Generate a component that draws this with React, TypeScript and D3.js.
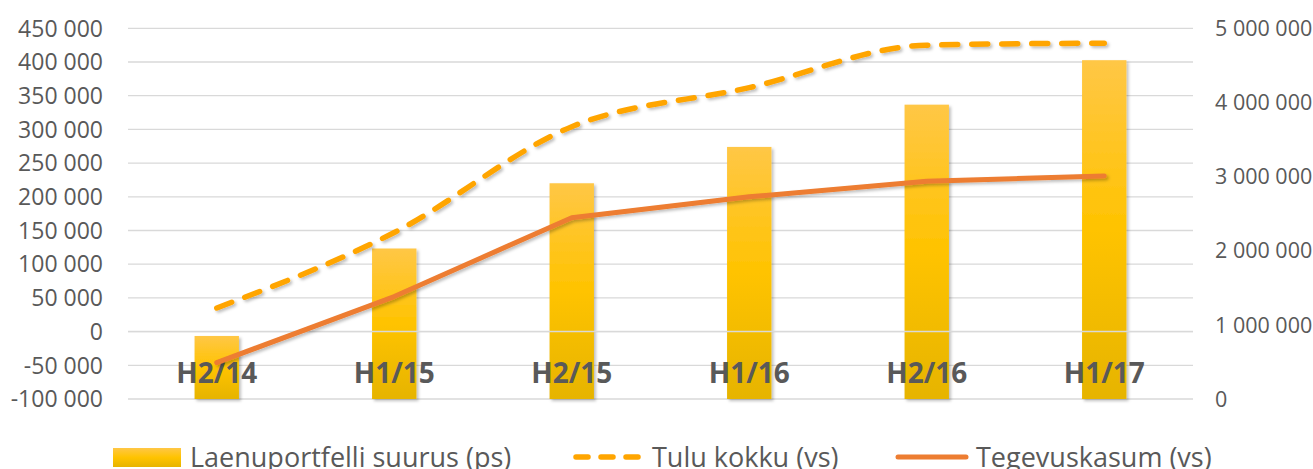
import * as d3 from "d3";
import React from "react";

// categories and series
const periods = ["H2/14", "H1/15", "H2/15", "H1/16", "H2/16", "H1/17"];
const portfolio = [850000, 2030000, 2910000, 3400000, 3970000, 4570000]; // right axis (ps)
const income = [35000, 147000, 304000, 362000, 425000, 428000]; // left axis (vs)
const operatingProfit = [-46000, 52000, 169000, 200000, 223000, 231000]; // left axis (vs)

const leftTicks = [-100000, -50000, 0, 50000, 100000, 150000, 200000, 250000, 300000, 350000, 400000, 450000];
const rightTicks = [0, 1000000, 2000000, 3000000, 4000000, 5000000];

const legendLabels = ["Laenuportfelli suurus (ps)", "Tulu kokku (vs)", "Tegevuskasum (vs)"];

const W = 1313;
const H = 469;
const plot = { left: 128, right: 1193, top: 28.3, bottom: 399 };

const fmt = (v: number) => {
  const s = d3.format(",")(v).replace(/,/g, " ");
  return s.replace("−", "-");
};

export default function App(): React.ReactElement {
  const x = d3.scaleBand<string>().domain(periods).range([plot.left, plot.right]).padding(0);
  const yL = d3.scaleLinear().domain([-100000, 450000]).range([plot.bottom, plot.top]);
  const yR = d3.scaleLinear().domain([0, 5000000]).range([plot.bottom, plot.top]);
  const cx = (c: string) => (x(c) ?? 0) + x.bandwidth() / 2;
  const barW = x.bandwidth() * 0.25;

  const incomeLine = d3
    .line<number>()
    .x((_, i) => cx(periods[i]))
    .y((d) => yL(d))
    .curve(d3.curveMonotoneX);
  const profitLine = d3
    .line<number>()
    .x((_, i) => cx(periods[i]))
    .y((d) => yL(d));

  const font = "'Open Sans', sans-serif";
  const grey = "#595959";

  return (
    <svg
      width={W}
      height={H}
      style={{ position: "absolute", left: 0, top: 0, background: "#fff" }}
      fontFamily={font}
    >
      <defs>
        <linearGradient id="barGrad" x1="0" y1="0" x2="0" y2="1">
          <stop offset="0" stopColor="#FFC746" />
          <stop offset="0.5" stopColor="#FFC300" />
          <stop offset="1" stopColor="#E6B400" />
        </linearGradient>
        <filter id="shadow" x="-20%" y="-20%" width="140%" height="140%">
          <feDropShadow dx="2" dy="2" stdDeviation="1.5" floodColor="#000" floodOpacity="0.25" />
        </filter>
      </defs>

      {/* gridlines */}
      {leftTicks.map((t) => (
        <line
          key={`g-${t}`}
          x1={plot.left}
          x2={plot.right}
          y1={yL(t)}
          y2={yL(t)}
          stroke="#D9D9D9"
          strokeWidth={1.3}
        />
      ))}

      {/* bars on right axis */}
      {periods.map((p, i) => (
        <rect
          key={`b-${p}`}
          x={cx(p) - barW / 2}
          y={yR(portfolio[i])}
          width={barW}
          height={yR(0) - yR(portfolio[i])}
          fill="url(#barGrad)"
          filter="url(#shadow)"
        />
      ))}

      {/* category axis line at zero */}
      <line x1={plot.left} x2={plot.right} y1={yL(0)} y2={yL(0)} stroke="#D9D9D9" strokeWidth={1.5} />

      {/* left ticks */}
      {leftTicks.map((t) => (
        <text
          key={`l-${t}`}
          x={103}
          y={yL(t)}
          dy="0.36em"
          textAnchor="end"
          fontSize={23}
          fill={grey}
        >
          {fmt(t)}
        </text>
      ))}

      {/* right ticks */}
      {rightTicks.map((t) => (
        <text key={`r-${t}`} x={1215} y={yR(t)} dy="0.36em" fontSize={21.5} fill={grey}>
          {fmt(t)}
        </text>
      ))}

      {/* category labels */}
      {periods.map((p) => (
        <text
          key={`c-${p}`}
          x={cx(p)}
          y={383}
          textAnchor="middle"
          fontSize={28}
          fontWeight={700}
          fill={grey}
        >
          {p}
        </text>
      ))}

      {/* lines */}
      <path
        d={incomeLine(income) ?? ""}
        fill="none"
        stroke="#FFA500"
        strokeWidth={5.5}
        strokeDasharray="16 14"
        strokeLinecap="round"
        filter="url(#shadow)"
      />
      <path
        d={profitLine(operatingProfit) ?? ""}
        fill="none"
        stroke="#ED7D31"
        strokeWidth={5}
        strokeLinecap="round"
        strokeLinejoin="round"
        filter="url(#shadow)"
      />

      {/* legend */}
      <g fontSize={27} fill={grey}>
        <rect x={113} y={448} width={68} height={19} fill="url(#barGrad)" />
        <text x={190} y={467}>{legendLabels[0]}</text>
        <line
          x1={576}
          x2={646}
          y1={457}
          y2={457}
          stroke="#FFA500"
          strokeWidth={5.5}
          strokeDasharray="12 13"
          strokeLinecap="round"
        />
        <text x={652} y={467}>{legendLabels[1]}</text>
        <line x1={898} x2={966} y1={457} y2={457} stroke="#ED7D31" strokeWidth={5} strokeLinecap="round" />
        <text x={976} y={467}>{legendLabels[2]}</text>
      </g>
    </svg>
  );
}
